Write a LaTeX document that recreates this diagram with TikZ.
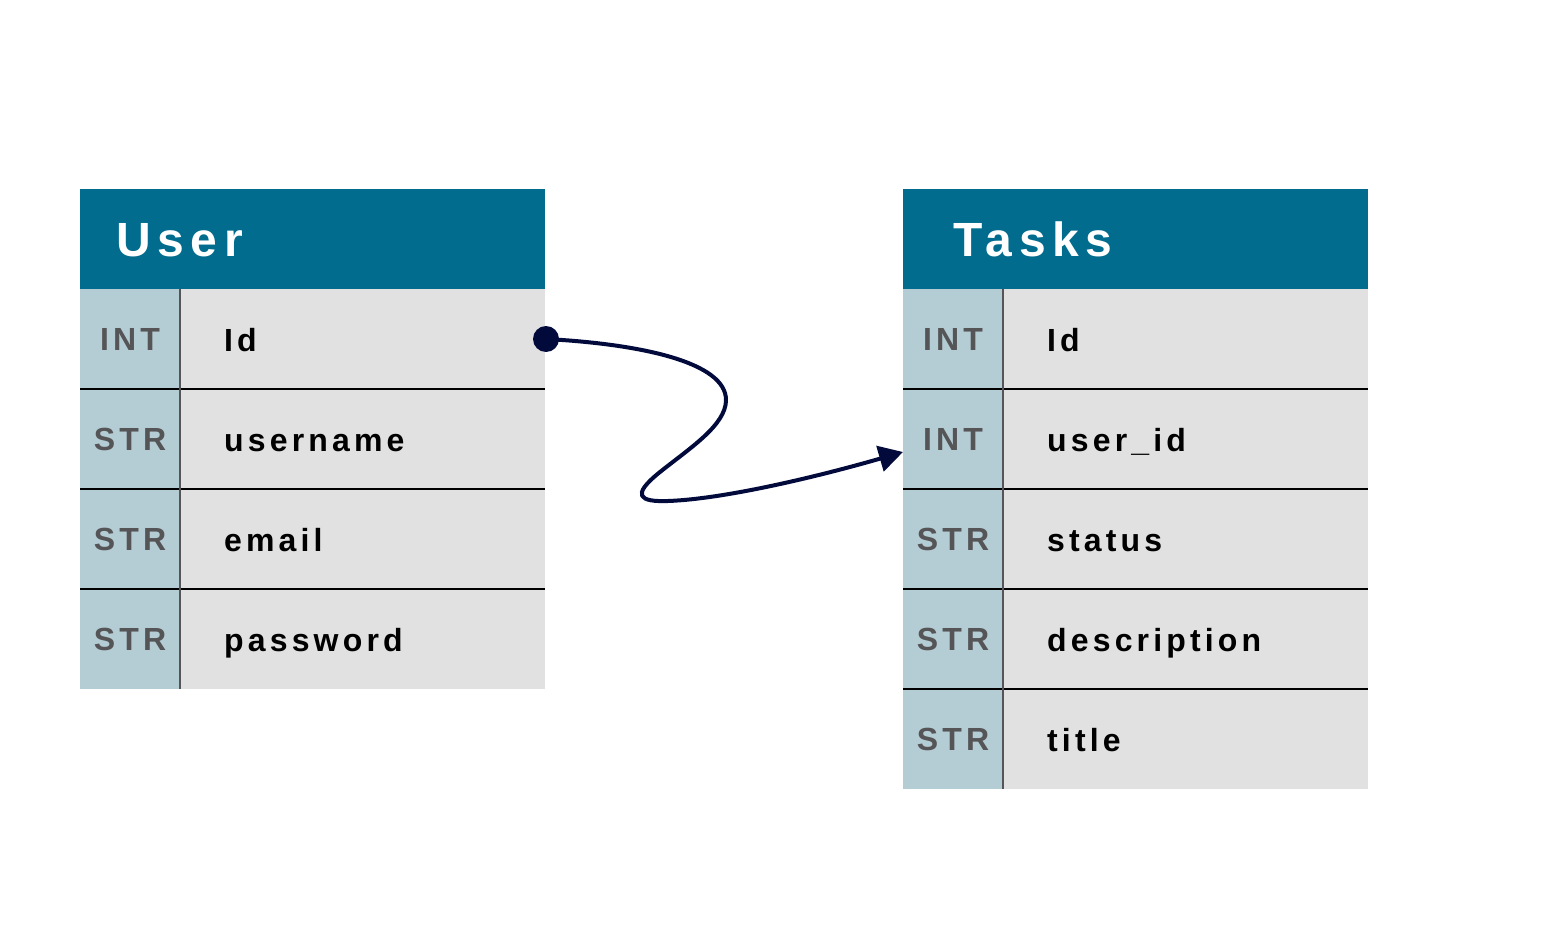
\documentclass[tikz,border=0pt]{standalone}
\usepackage{fontspec}
\setmainfont{Liberation Sans}
\newfontfamily\hdrfont[LetterSpace=14]{Liberation Sans Bold}
\newfontfamily\cellfont[LetterSpace=13]{Liberation Sans Bold}
\usetikzlibrary{arrows.meta}
\definecolor{hdrblue}{RGB}{1,108,141}
\definecolor{typeblue}{RGB}{180,204,212}
\definecolor{rowgray}{RGB}{225,225,225}
\definecolor{typegray}{RGB}{85,85,87}
\definecolor{linknavy}{RGB}{2,10,60}
\tikzset{
  cellbase/.style={inner sep=0pt, outer sep=0pt, anchor=north west, minimum height=100pt},
  hdrbox/.style={cellbase, fill=hdrblue, minimum width=465pt},
  typecell/.style={cellbase, fill=typeblue, minimum width=100pt, text=typegray,
    font=\cellfont\fontsize{32}{36}\selectfont},
  namecell/.style={cellbase, fill=rowgray, minimum width=365pt},
  nametext/.style={anchor=base west, xshift=44pt, yshift=-12pt, inner sep=0pt,
    text=black, font=\cellfont\fontsize{32}{36}\selectfont},
  hdrtext/.style={anchor=base west, yshift=-17pt, inner sep=0pt, text=white,
    font=\hdrfont\fontsize{48}{54}\selectfont},
  rowline/.style={line width=1.3pt, black},
  colline/.style={line width=1.5pt, typegray},
  link/.style={line width=4pt, linknavy, -{Triangle[length=24pt,width=26pt]}},
  dot/.style={circle, fill=linknavy, minimum size=26pt, inner sep=0pt}
}
\begin{document}
\begin{tikzpicture}[x=1pt,y=-1pt]
\useasboundingbox (0,0) rectangle (1561,928);
% ---------- User table ----------
\node[hdrbox, label={[hdrtext, xshift=36pt]west:User}] (uhdr) at (80,189) {};
\node[typecell] (ut1) at (80,289) {INT};
\node[namecell, label={[nametext]west:Id}] (un1) at (180,289) {};
\node[typecell] (ut2) at (80,389) {STR};
\node[namecell, label={[nametext]west:username}] (un2) at (180,389) {};
\node[typecell] (ut3) at (80,489) {STR};
\node[namecell, label={[nametext]west:email}] (un3) at (180,489) {};
\node[typecell] (ut4) at (80,589) {STR};
\node[namecell, label={[nametext]west:password}] (un4) at (180,589) {};
\draw[rowline] (ut2.north west) -- (un2.north east);
\draw[rowline] (ut3.north west) -- (un3.north east);
\draw[rowline] (ut4.north west) -- (un4.north east);
\draw[colline] (un1.north west) -- (un4.south west);
% ---------- Tasks table ----------
\node[hdrbox, label={[hdrtext, xshift=50pt]west:Tasks}] (thdr) at (903,189) {};
\node[typecell] (tt1) at (903,289) {INT};
\node[namecell, label={[nametext]west:Id}] (tn1) at (1003,289) {};
\node[typecell] (tt2) at (903,389) {INT};
\node[namecell, label={[nametext]west:user\_id}] (tn2) at (1003,389) {};
\node[typecell] (tt3) at (903,489) {STR};
\node[namecell, label={[nametext]west:status}] (tn3) at (1003,489) {};
\node[typecell] (tt4) at (903,589) {STR};
\node[namecell, label={[nametext]west:description}] (tn4) at (1003,589) {};
\node[typecell] (tt5) at (903,689) {STR};
\node[namecell, label={[nametext]west:title}] (tn5) at (1003,689) {};
\draw[rowline] (tt2.north west) -- (tn2.north east);
\draw[rowline] (tt3.north west) -- (tn3.north east);
\draw[rowline] (tt4.north west) -- (tn4.north east);
\draw[rowline] (tt5.north west) -- (tn5.north east);
\draw[colline] (tn1.north west) -- (tn5.south west);
% ---------- Relation ----------
\node[dot] (ustart) at ([xshift=1pt]un1.east) {};
\coordinate (tend) at ([yshift=-13pt]tt2.west);
\draw[link] (ustart.center) .. controls (640,344) and (726,362) .. (726,400)
  .. controls (726,425) and (690,448) .. (660,472)
  .. controls (630,496) and (640,502) .. (668,501)
  .. controls (725,499) and (820,476) .. (tend);
\end{tikzpicture}
\end{document}
